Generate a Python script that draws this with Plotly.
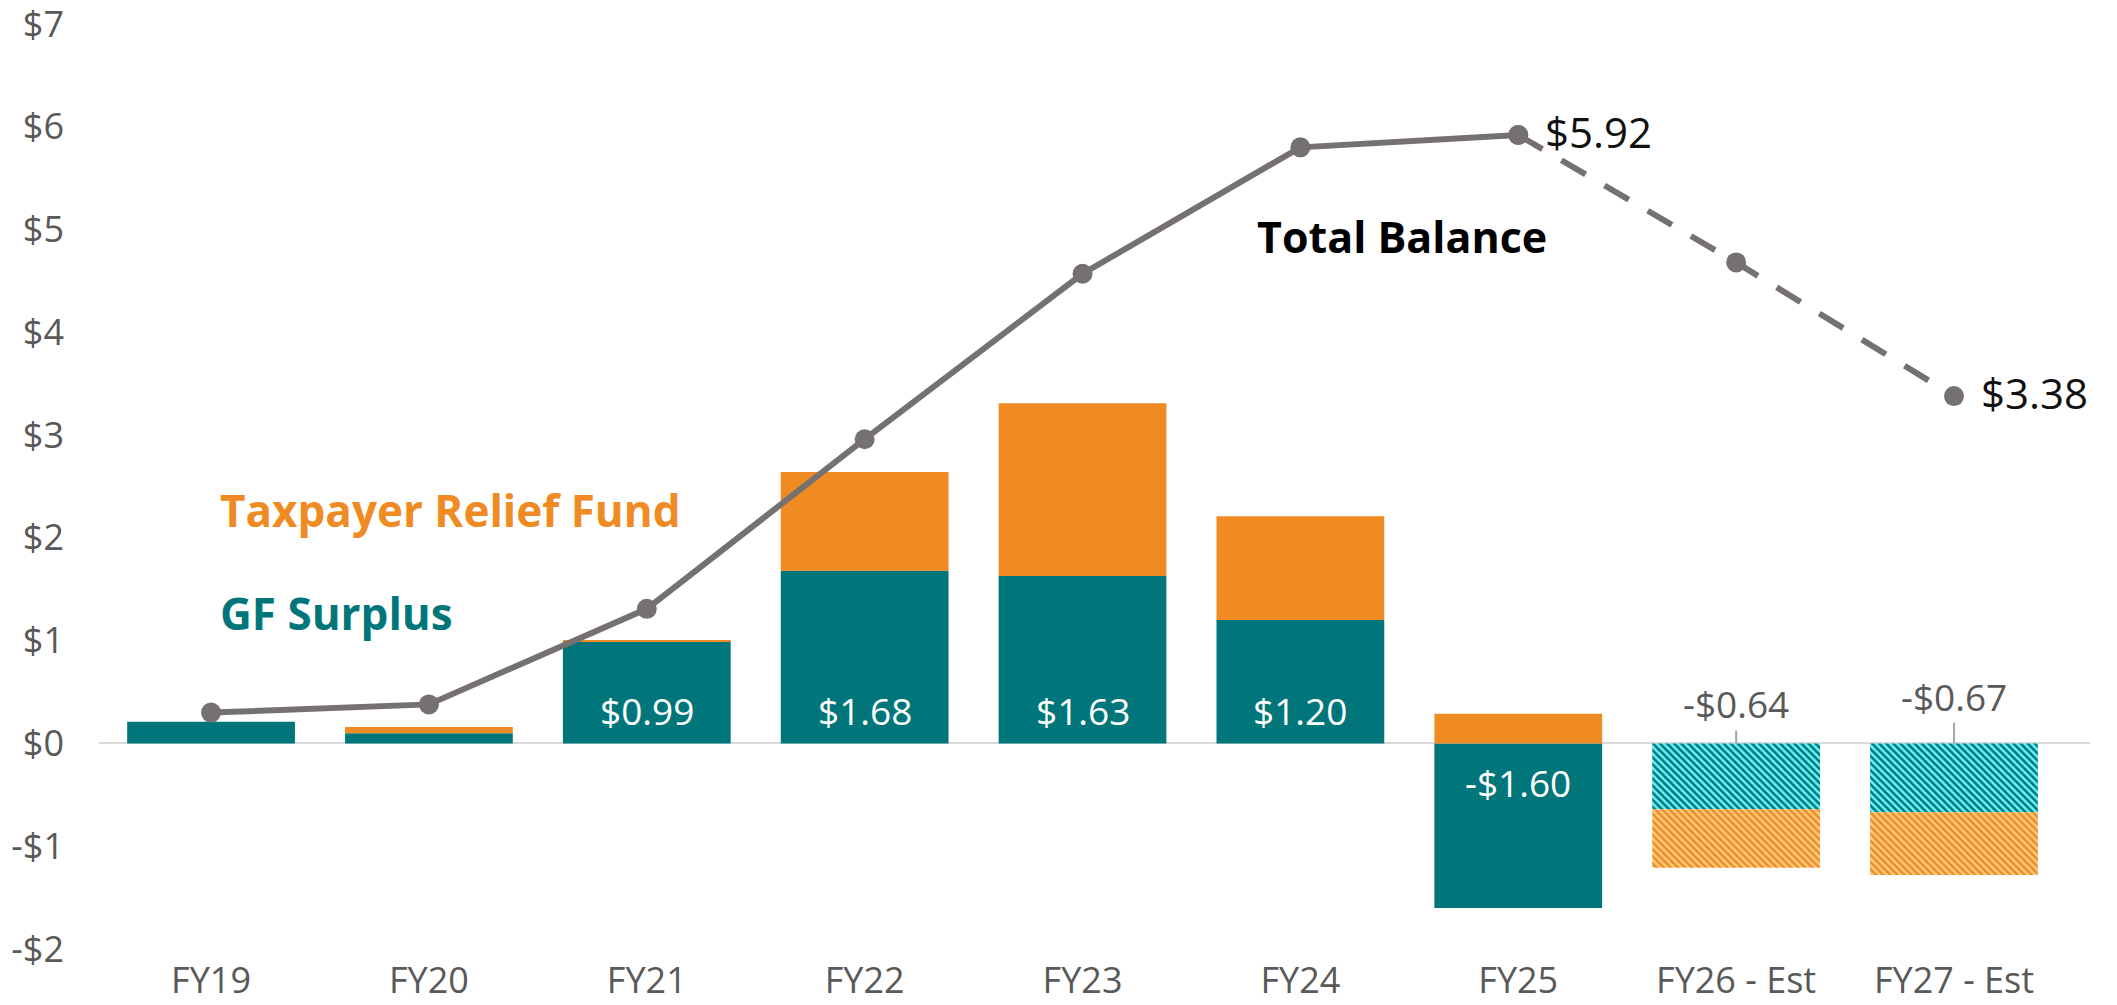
import plotly.graph_objects as go

categories = ["FY19", "FY20", "FY21", "FY22", "FY23", "FY24", "FY25", "FY26 - Est", "FY27 - Est"]
gf_surplus = [0.21, 0.10, 0.99, 1.68, 1.63, 1.20, -1.60, -0.64, -0.67]
relief_fund = [0.00, 0.06, 0.015, 0.96, 1.68, 1.01, 0.29, -0.57, -0.61]
total_balance = [0.30, 0.38, 1.31, 2.96, 4.57, 5.80, 5.92, 4.68, 3.38]
estimated = [False, False, False, False, False, False, False, True, True]
inside_labels = ["", "", "$0.99", "$1.68", "$1.63", "$1.20", "-$1.60", "", ""]
outside_labels = ["", "", "", "", "", "", "", "-$0.64", "-$0.67"]
y_ticks = [-2, -1, 0, 1, 2, 3, 4, 5, 6, 7]
y_tick_text = ["-$2", "-$1", "$0", "$1", "$2", "$3", "$4", "$5", "$6", "$7"]

TEAL = "#00767A"
TEAL_LIGHT = "#66F4FC"
ORANGE = "#EF8B22"
ORANGE_LIGHT = "#FDCB80"
GREY = "#767171"
TXT = "#595959"
REG = "Open Sans, Noto Sans, sans-serif"
BOLD = "Open Sans, Noto Sans, sans-serif"

fig = go.Figure()

def bar_marker(dark, light):
    return dict(
        color=dark,
        line=dict(width=0),
        pattern=dict(shape=["\\" if e else "" for e in estimated],
                     fillmode="replace",
                     bgcolor=[light if e else dark for e in estimated],
                     fgcolor=dark, size=5, solidity=0.5),
    )

fig.add_trace(go.Bar(x=categories, y=gf_surplus, name="GF Surplus",
                     marker=bar_marker(TEAL, TEAL_LIGHT), hoverinfo="skip"))
fig.add_trace(go.Bar(x=categories, y=relief_fund, name="Taxpayer Relief Fund",
                     marker=bar_marker(ORANGE, ORANGE_LIGHT), hoverinfo="skip"))

# Total balance: solid actuals, dashed estimates
n_actual = estimated.index(True)
fig.add_trace(go.Scatter(
    x=categories[n_actual - 1:], y=total_balance[n_actual - 1:], mode="lines+markers",
    line=dict(color=GREY, width=6, dash="28px,22px"), marker=dict(color=GREY, size=20),
    cliponaxis=False, hoverinfo="skip",
))
fig.add_trace(go.Scatter(
    x=categories[:n_actual], y=total_balance[:n_actual], mode="lines+markers",
    line=dict(color=GREY, width=6), marker=dict(color=GREY, size=20),
    cliponaxis=False, hoverinfo="skip",
))

annotations = []
shapes = []
# end labels of total balance
for i in [n_actual - 1, len(categories) - 1]:
    annotations.append(dict(x=categories[i], y=total_balance[i], text=f"${total_balance[i]:.2f}",
                            showarrow=False, xanchor="left", xshift=25, yshift=4,
                            font=dict(family=REG, size=42, color="#111111")))
for c, v, t in zip(categories, gf_surplus, inside_labels):
    if t:
        annotations.append(dict(x=c, y=0, text=t, showarrow=False,
                                yshift=33 if v > 0 else -39,
                                font=dict(family=REG, size=37, color="white")))
for c, t, ys, tick in zip(categories, outside_labels, [0] * 7 + [40, 47], [0] * 7 + [13, 21]):
    if t:
        annotations.append(dict(x=c, y=0, text=t, showarrow=False, yshift=ys,
                                font=dict(family=REG, size=37, color=TXT)))
        shapes.append(dict(type="line", xref="x", yref="y", x0=c, x1=c,
                           ysizemode="pixel", yanchor=0, y0=0, y1=tick,
                           line=dict(color="#A6A6A6", width=2)))

annotations += [
    dict(x=0.060, xref="paper", y=2.27, yref="y", text="<b>Taxpayer Relief Fund</b>",
         showarrow=False, xanchor="left", font=dict(family=BOLD, size=44, color=ORANGE)),
    dict(x=0.060, xref="paper", y=1.27, yref="y", text="<b>GF Surplus</b>",
         showarrow=False, xanchor="left", font=dict(family=BOLD, size=44, color=TEAL)),
    dict(x=0.5805, xref="paper", y=4.93, yref="y", text="<b>Total Balance</b>",
         showarrow=False, xanchor="left", font=dict(family=BOLD, size=43, color="#000000")),
]

fig.update_layout(
    width=2117, height=1005,
    margin=dict(l=99, r=27, t=24, b=56),
    barmode="relative", bargap=0.23,
    plot_bgcolor="white", paper_bgcolor="white",
    showlegend=False,
    annotations=annotations,
    shapes=shapes,
    font=dict(family=REG, color=TXT),
)
fig.update_xaxes(showgrid=False, showline=False, zeroline=False, ticks="", automargin=False,
                 ticklabelstandoff=7,
                 tickfont=dict(family=REG, size=36, color=TXT))
fig.update_yaxes(range=[-2, 7], tickvals=y_ticks, ticktext=y_tick_text, automargin=False,
                 showgrid=False, zeroline=True, zerolinecolor="#D9D9D9", zerolinewidth=2,
                 showline=False, ticks="", ticklabelstandoff=34, ticklabeloverflow="allow",
                 tickfont=dict(family=REG, size=36, color=TXT))

fig.write_html("out.html", config={"displayModeBar": False},
               post_script="document.body.style.margin='0';")
